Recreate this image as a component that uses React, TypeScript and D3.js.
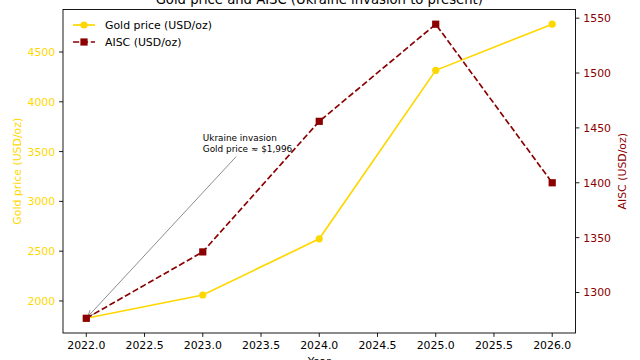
import React from "react";
import * as d3 from "d3";

const years = [2022, 2023, 2024, 2025, 2026];
const goldPrice = [1826, 2060, 2624, 4316, 4779];
const aisc = [1276.5, 1337, 1456, 1544.5, 1400];
const xTicks = [2022, 2022.5, 2023, 2023.5, 2024, 2024.5, 2025, 2025.5, 2026];
const goldTicks = [2000, 2500, 3000, 3500, 4000, 4500];
const aiscTicks = [1300, 1350, 1400, 1450, 1500, 1550];
const annotationLines = ["Ukraine invasion", "Gold price ≈ $1,996"];
const annotationText = { year: 2023, price: 3500 };

const W = 640;
const H = 360;
const M = { left: 63, right: 575.5, top: 9.5, bottom: 333 };
const GOLD = "#FFD700";
const RED = "#8B0000";
const FONT = "'DejaVu Sans', sans-serif";
const FS = 10.9;

function padDomain(vals: number[]) {
  const lo = d3.min(vals) as number;
  const hi = d3.max(vals) as number;
  const p = (hi - lo) * 0.05;
  return [lo - p, hi + p];
}

export default function App() {
  const x = d3.scaleLinear().domain(padDomain(years)).range([M.left, M.right]);
  const yL = d3.scaleLinear().domain(padDomain(goldPrice)).range([M.bottom, M.top]);
  const yR = d3.scaleLinear().domain(padDomain(aisc)).range([M.bottom, M.top]);

  const goldLine = d3
    .line<number>()
    .x((_, i) => x(years[i]))
    .y((d) => yL(d))(goldPrice) as string;
  const aiscLine = d3
    .line<number>()
    .x((_, i) => x(years[i]))
    .y((d) => yR(d))(aisc) as string;

  // annotation geometry
  const tx = x(annotationText.year);
  const tyBase = yL(annotationText.price);
  const lineH = 10.6;
  const annFs = 8.9;
  const textW = 90;
  const boxTop = tyBase - lineH - 7;
  const boxBottom = tyBase + 2.5;
  const cx = tx + textW / 2;
  const cy = (boxTop + boxBottom) / 2;
  const px = x(years[0]);
  const py = yL(goldPrice[0]);
  const dx = px - cx;
  const dy = py - cy;
  const t0 = (boxBottom + 2.5 - cy) / dy;
  const sx = cx + dx * t0;
  const sy = cy + dy * t0;
  const len = Math.hypot(dx, dy);
  const ux = dx / len;
  const uy = dy / len;
  const ex = px - ux * 2.5;
  const ey = py - uy * 2.5;
  const ah = 6;
  const aw = 2.8;
  const arrowPath = `M${ex - ux * ah + uy * aw},${ey - uy * ah - ux * aw}L${ex},${ey}L${ex - ux * ah - uy * aw},${ey - uy * ah + ux * aw}`;

  const ms = 7.2;

  return (
    <svg
      width={W}
      height={H}
      style={{ position: "absolute", left: 0, top: 0, background: "#fff" }}
      fontFamily={FONT}
    >
      {/* title */}
      <text x={(M.left + M.right) / 2} y={3.5} textAnchor="middle" fontSize={13.2} fill="#000">
        Gold price and AISC (Ukraine invasion to present)
      </text>

      {/* annotation */}
      <g>
        <line x1={sx} y1={sy} x2={ex} y2={ey} stroke="#808080" strokeWidth={0.9} />
        <path d={arrowPath} fill="none" stroke="#808080" strokeWidth={0.9} />
        {annotationLines.map((t, i) => (
          <text
            key={i}
            x={tx}
            y={tyBase - (annotationLines.length - 1 - i) * lineH}
            fontSize={annFs}
            fill="#000"
          >
            {t}
          </text>
        ))}
      </g>

      {/* series */}
      <path d={goldLine} fill="none" stroke={GOLD} strokeWidth={1.67} />
      {goldPrice.map((v, i) => (
        <circle key={i} cx={x(years[i])} cy={yL(v)} r={ms / 2} fill={GOLD} />
      ))}
      <path
        d={aiscLine}
        fill="none"
        stroke={RED}
        strokeWidth={1.67}
        strokeDasharray="6.2,2.7"
      />
      {aisc.map((v, i) => (
        <rect
          key={i}
          x={x(years[i]) - ms / 2}
          y={yR(v) - ms / 2}
          width={ms}
          height={ms}
          fill={RED}
        />
      ))}

      {/* frame */}
      <rect
        x={M.left}
        y={M.top}
        width={M.right - M.left}
        height={M.bottom - M.top}
        fill="none"
        stroke="#000"
        strokeWidth={0.9}
      />

      {/* x axis */}
      {xTicks.map((t) => (
        <g key={t}>
          <line x1={x(t)} x2={x(t)} y1={M.bottom} y2={M.bottom + 3.9} stroke="#000" strokeWidth={0.9} />
          <text x={x(t)} y={M.bottom + 16.2} textAnchor="middle" fontSize={FS} fill="#000">
            {t.toFixed(1)}
          </text>
        </g>
      ))}
      <text x={(M.left + M.right) / 2} y={M.bottom + 32} textAnchor="middle" fontSize={FS} fill="#000">
        Year
      </text>

      {/* left axis */}
      {goldTicks.map((t) => (
        <g key={t}>
          <line x1={M.left - 3.9} x2={M.left} y1={yL(t)} y2={yL(t)} stroke="#000" strokeWidth={0.9} />
          <text x={M.left - 7.8} y={yL(t)} dy="0.36em" textAnchor="end" fontSize={FS} fill={GOLD}>
            {t}
          </text>
        </g>
      ))}
      <text
        transform={`translate(${20.5},${(M.top + M.bottom) / 2}) rotate(-90)`}
        textAnchor="middle"
        fontSize={FS}
        fill={GOLD}
      >
        Gold price (USD/oz)
      </text>

      {/* right axis */}
      {aiscTicks.map((t) => (
        <g key={t}>
          <line x1={M.right} x2={M.right + 3.9} y1={yR(t)} y2={yR(t)} stroke="#000" strokeWidth={0.9} />
          <text x={M.right + 7.8} y={yR(t)} dy="0.36em" textAnchor="start" fontSize={FS} fill={RED}>
            {t}
          </text>
        </g>
      ))}
      <text
        transform={`translate(${626},${(M.top + M.bottom) / 2}) rotate(-90)`}
        textAnchor="middle"
        fontSize={FS}
        fill={RED}
      >
        AISC (USD/oz)
      </text>

      {/* legend */}
      <g>
        <line x1={73} x2={95} y1={25} y2={25} stroke={GOLD} strokeWidth={1.67} />
        <circle cx={84} cy={25} r={ms / 2} fill={GOLD} />
        <text x={105} y={25} dy="0.36em" fontSize={FS} fill="#000">
          Gold price (USD/oz)
        </text>
        <line x1={73} x2={95} y1={42} y2={42} stroke={RED} strokeWidth={1.67} strokeDasharray="6.2,2.7" />
        <rect x={84 - ms / 2} y={42 - ms / 2} width={ms} height={ms} fill={RED} />
        <text x={105} y={42} dy="0.36em" fontSize={FS} fill="#000">
          AISC (USD/oz)
        </text>
      </g>
    </svg>
  );
}
